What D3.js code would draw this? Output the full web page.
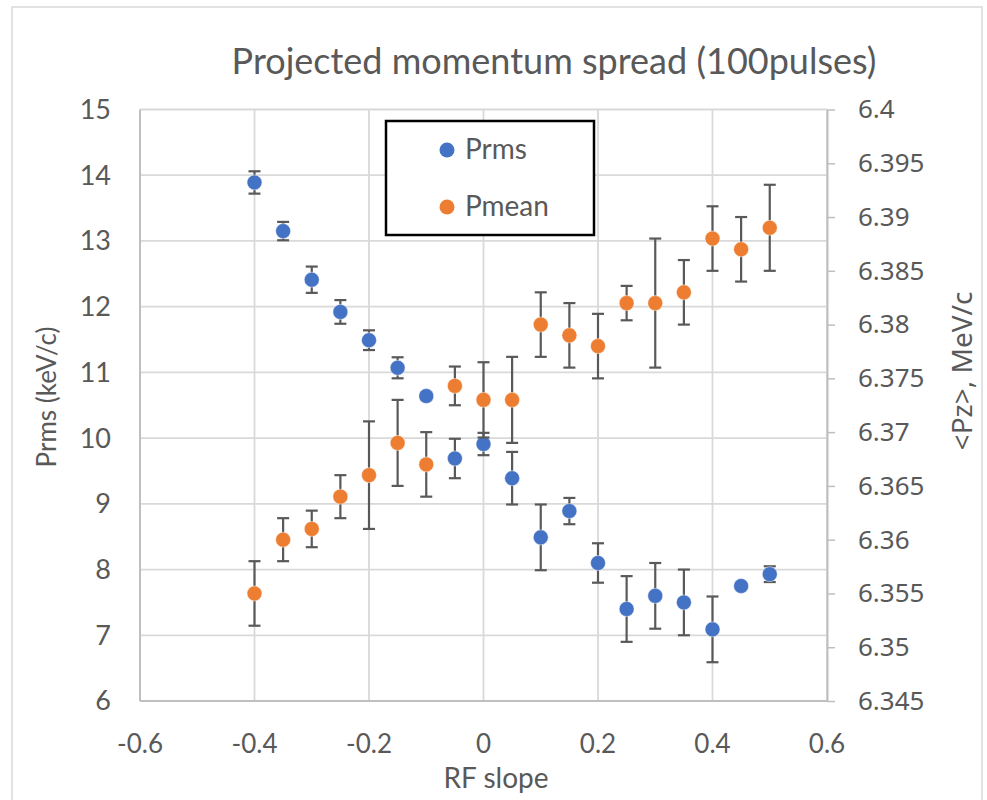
<!DOCTYPE html>
<html><head><meta charset="utf-8">
<script src="https://cdn.jsdelivr.net/npm/d3@7"></script>
<style>body{margin:0;background:#fff}</style>
</head><body>
<svg id="c" width="987" height="800"></svg>
<script>
const title = "Projected momentum spread (100pulses)";
const slopes = [-0.4,-0.35,-0.3,-0.25,-0.2,-0.15,-0.1,-0.05,0,0.05,0.1,0.15,0.2,0.25,0.3,0.35,0.4,0.45,0.5];
const prms = [13.89,13.15,12.41,11.92,11.49,11.07,10.64,9.69,9.91,9.39,8.49,8.89,8.10,7.40,7.60,7.50,7.09,7.75,7.93];
const prmsErr = [0.17,0.14,0.2,0.18,0.15,0.16,0.06,0.3,0.17,0.4,0.5,0.2,0.3,0.5,0.5,0.5,0.5,0.05,0.12];
const pmean = [6.355,6.360,6.361,6.364,6.366,6.369,6.367,6.3743,6.373,6.373,6.380,6.379,6.378,6.382,6.382,6.383,6.388,6.387,6.389];
const pmeanErr = [0.003,0.002,0.0017,0.002,0.005,0.004,0.003,0.0018,0.0035,0.004,0.003,0.003,0.003,0.0016,0.006,0.003,0.003,0.003,0.004];
const xTicks = [-0.6,-0.4,-0.2,0,0.2,0.4,0.6];
const yLeftTicks = [6,7,8,9,10,11,12,13,14,15];
const yRightTicks = [6.345,6.35,6.355,6.36,6.365,6.37,6.375,6.38,6.385,6.39,6.395,6.4];
const seriesNames = ["Prms","Pmean"];
const colors = ["#4472C4","#ED7D31"];

const svg = d3.select("#c");
const L = 140, R = 827, T = 109.5, B = 701;
const x = d3.scaleLinear().domain([-0.6,0.6]).range([L,R]);
const yL = d3.scaleLinear().domain([6,15]).range([B,T]);
const yR = d3.scaleLinear().domain([6.345,6.4]).range([B,T]);
const txt = "#595959";
const font = "Lato, 'Open Sans', sans-serif";
const font2 = "'Noto Sans', 'Open Sans', sans-serif";

// chart frame
svg.append("rect").attr("x",12).attr("y",7).attr("width",970).attr("height",800)
  .attr("fill","#fff").attr("stroke","#d9d9d9").attr("stroke-width",1.5);

// gridlines
const grid = svg.append("g");
grid.selectAll("line.h").data(yLeftTicks).join("line")
  .attr("x1",L).attr("x2",R).attr("y1",d=>yL(d)).attr("y2",d=>yL(d))
  .attr("stroke","#d9d9d9").attr("stroke-width",1.8);
grid.selectAll("line.v").data(xTicks).join("line")
  .attr("y1",T).attr("y2",B).attr("x1",d=>x(d)).attr("x2",d=>x(d))
  .attr("stroke","#d9d9d9").attr("stroke-width",1.8);

// axes lines
const axc = "#bfbfbf";
svg.append("line").attr("x1",L).attr("x2",L).attr("y1",T).attr("y2",B).attr("stroke",axc).attr("stroke-width",2);
svg.append("line").attr("x1",L).attr("x2",R).attr("y1",B).attr("y2",B).attr("stroke",axc).attr("stroke-width",2);

// right axis with ticks
const gR = svg.append("g").attr("transform",`translate(${R},0)`)
  .call(d3.axisRight(yR).tickValues(yRightTicks).tickSize(8).tickSizeOuter(0).tickPadding(23)
        .tickFormat(d=>String(+d.toFixed(3))));
gR.select(".domain").attr("stroke",axc).attr("stroke-width",2);
gR.selectAll(".tick line").attr("stroke",axc).attr("stroke-width",1.5);
gR.selectAll(".tick text").attr("fill",txt).attr("font-family",font2).attr("font-size",26);

// left tick labels
svg.append("g").selectAll("text").data(yLeftTicks).join("text")
  .attr("x",111).attr("y",d=>yL(d)).attr("dy","0.35em").attr("text-anchor","end")
  .attr("fill",txt).attr("font-family",font).attr("font-size",27).text(d=>d);

// x tick labels
svg.append("g").selectAll("text").data(xTicks).join("text")
  .attr("x",d=>x(d)).attr("y",753).attr("text-anchor","middle")
  .attr("fill",txt).attr("font-family",font).attr("font-size",26).text(d=>String(d));

// titles
svg.append("text").attr("x",554).attr("y",74).attr("text-anchor","middle")
  .attr("fill",txt).attr("font-family",font).attr("font-size",36).text(title);
svg.append("text").attr("x",496).attr("y",788).attr("text-anchor","middle")
  .attr("fill",txt).attr("font-family",font).attr("font-size",28).text("RF slope");
svg.append("text").attr("transform","translate(56,397) rotate(-90)").attr("text-anchor","middle")
  .attr("fill",txt).attr("font-family",font).attr("font-size",26).text("Prms (keV/c)");
svg.append("text").attr("transform","translate(972,371) rotate(-90)").attr("text-anchor","middle")
  .attr("fill",txt).attr("font-family",font2).attr("font-size",28).text("<Pz>, MeV/c");

// series
function drawSeries(vals, errs, yScale, color){
  const data = slopes.map((s,i)=>({s, v:vals[i], e:errs[i]}));
  const g = svg.append("g");
  const eb = g.append("g").attr("stroke","#595959").attr("stroke-width",2.2);
  eb.selectAll("line.stem").data(data).join("line")
    .attr("x1",d=>x(d.s)).attr("x2",d=>x(d.s)).attr("y1",d=>yScale(d.v-d.e)).attr("y2",d=>yScale(d.v+d.e));
  eb.selectAll("line.top").data(data).join("line")
    .attr("x1",d=>x(d.s)-6).attr("x2",d=>x(d.s)+6).attr("y1",d=>yScale(d.v+d.e)).attr("y2",d=>yScale(d.v+d.e));
  eb.selectAll("line.bot").data(data).join("line")
    .attr("x1",d=>x(d.s)-6).attr("x2",d=>x(d.s)+6).attr("y1",d=>yScale(d.v-d.e)).attr("y2",d=>yScale(d.v-d.e));
  g.selectAll("circle").data(data).join("circle")
    .attr("cx",d=>x(d.s)).attr("cy",d=>yScale(d.v)).attr("r",7.5)
    .attr("fill",color).attr("stroke","#fff").attr("stroke-opacity",0.6).attr("stroke-width",0.8);
}
drawSeries(prms, prmsErr, yL, colors[0]);
drawSeries(pmean, pmeanErr, yR, colors[1]);

// legend
const lg = svg.append("g");
lg.append("rect").attr("x",386).attr("y",121).attr("width",208).attr("height",114)
  .attr("fill","#fff").attr("stroke","#000").attr("stroke-width",2.5);
seriesNames.forEach((n,i)=>{
  const cy = 150 + i*57;
  lg.append("circle").attr("cx",447).attr("cy",cy).attr("r",7.5).attr("fill",colors[i]);
  lg.append("text").attr("x",465).attr("y",cy+9).attr("fill",txt)
    .attr("font-family",font).attr("font-size",28).text(n);
});
</script>
</body></html>
